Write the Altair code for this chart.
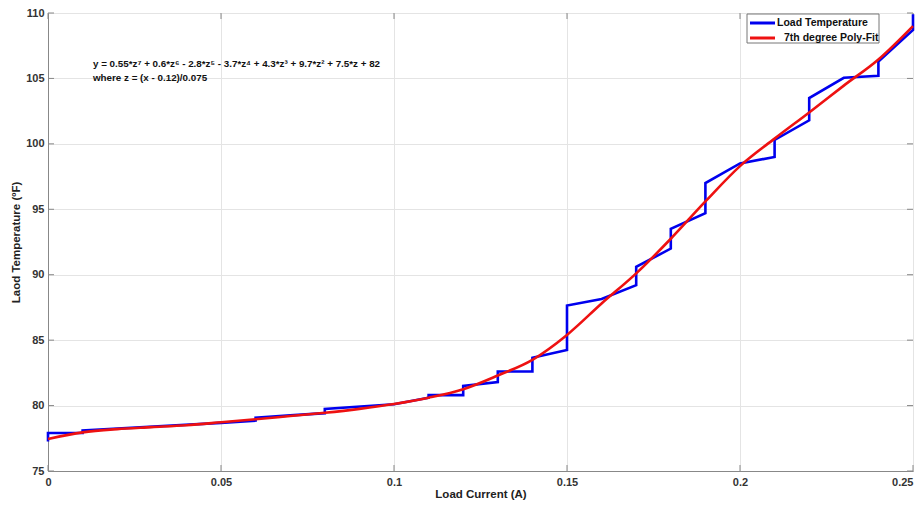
import altair as alt
import pandas as pd

# ---- data ----
blue_x = [0, 0, 0.01, 0.01, 0.05, 0.06, 0.06, 0.07, 0.08, 0.08, 0.10, 0.11, 0.11, 0.12, 0.12,
          0.13, 0.13, 0.14, 0.14, 0.15, 0.15, 0.16, 0.17, 0.17, 0.18, 0.18, 0.19, 0.19, 0.20,
          0.21, 0.21, 0.22, 0.22, 0.23, 0.24, 0.24, 0.25, 0.25]
blue_y = [77.25, 77.9, 77.9, 78.1, 78.68, 78.85, 79.08, 79.25, 79.42, 79.75, 80.1, 80.6, 80.8, 80.8, 81.5,
          81.8, 82.6, 82.6, 83.65, 84.25, 87.65, 88.15, 89.2, 90.6, 92.0, 93.5, 94.7, 97.0, 98.5,
          99.0, 100.3, 101.8, 103.5, 105.05, 105.2, 106.3, 108.7, 109.9]

fit_x = [0, 0.01, 0.02, 0.03, 0.04, 0.05, 0.06, 0.07, 0.08, 0.09, 0.10, 0.11, 0.12, 0.13,
         0.14, 0.15, 0.16, 0.17, 0.18, 0.19, 0.20, 0.21, 0.22, 0.23, 0.24, 0.25]
fit_y = [77.45, 77.95, 78.2, 78.35, 78.5, 78.72, 78.95, 79.2, 79.45, 79.75, 80.12, 80.6, 81.25, 82.3,
         83.5, 85.4, 87.8, 90.1, 92.75, 95.6, 98.3, 100.4, 102.4, 104.45, 106.45, 109.0]

series_names = ["Load Temperature", "7th degree Poly-Fit"]
series_colors = ["#0000ee", "#ee1111"]
x_ticks = [0, 0.05, 0.1, 0.15, 0.2, 0.25]
y_ticks = [75, 80, 85, 90, 95, 100, 105, 110]
eq_text = ("y = 0.55*z\u2077 + 0.6*z\u2076 - 2.8*z\u2075 - 3.7*z\u2074 + 4.3*z\u00b3 + 9.7*z\u00b2 + 7.5*z + 82"
           "\nwhere z = (x - 0.12)/0.075")

W, H = 865, 458
FONT = "Liberation Sans"
GRID = "#e4e4e4"
FRAME = "#888888"

blue_df = pd.DataFrame({"x": blue_x, "y": blue_y, "idx": list(range(len(blue_x)))})
fit_df = pd.DataFrame({"x": fit_x, "y": fit_y})

xscale = alt.Scale(domain=[0, 0.25], nice=False, zero=False)
yscale = alt.Scale(domain=[75, 110], nice=False, zero=False)

xaxis = alt.Axis(values=x_ticks, format="~g", title="Load Current (A)", grid=True,
                 gridColor=GRID, domainColor=FRAME, ticks=False, labelFlush=False,
                 labelAlign={"condition": {"test": "datum.value >= 0.249", "value": "right"},
                             "value": "center"},
                 labelPadding=5, titlePadding=1)
yaxis = alt.Axis(values=y_ticks, title="Laod Temperature (\u00baF)", grid=True,
                 gridColor=GRID, domainColor=FRAME, ticks=False, labelFlush=False,
                 labelPadding=4, titlePadding=4)


def X(field):
    return alt.X(field, scale=xscale, axis=xaxis)


def Y(field):
    return alt.Y(field, scale=yscale, axis=yaxis)


blue = alt.Chart(blue_df).mark_line(strokeWidth=2.6, color=series_colors[0]).encode(
    x=X("x:Q"), y=Y("y:Q"), order="idx:Q")
red = alt.Chart(fit_df).mark_line(strokeWidth=2.6, interpolate="monotone",
                                  color=series_colors[1]).encode(x=X("x:Q"), y=Y("y:Q"))

# inward ticks (MATLAB style) on all four sides
ytick_df = pd.DataFrame({"v": y_ticks})
xtick_df = pd.DataFrame({"v": x_ticks})
yt_left = alt.Chart(ytick_df).mark_rule(color=FRAME).encode(
    y=Y("v:Q"), x=alt.value(0), x2=alt.value(6))
yt_right = alt.Chart(ytick_df).mark_rule(color=FRAME).encode(
    y=Y("v:Q"), x=alt.value(W - 6), x2=alt.value(W))
xt_bot = alt.Chart(xtick_df).mark_rule(color=FRAME).encode(
    x=X("v:Q"), y=alt.value(H - 6), y2=alt.value(H))
xt_top = alt.Chart(xtick_df).mark_rule(color=FRAME).encode(
    x=X("v:Q"), y=alt.value(0), y2=alt.value(6))

eq = alt.Chart(pd.DataFrame({"t": [eq_text]})).mark_text(
    align="left", baseline="middle", font=FONT, fontSize=9.8, fontWeight="bold",
    color="#111", lineBreak="\n", lineHeight=14).encode(
    text="t:N", x=alt.value(45), y=alt.value(51))

# legend box (drawn like MATLAB's legend)
leg_box = alt.Chart(pd.DataFrame({"a": [0]})).mark_rect(
    fill="white", stroke="#777", strokeWidth=1).encode(
    x=alt.value(699), x2=alt.value(831), y=alt.value(1), y2=alt.value(30))
leg_items = []
for i, (name, col) in enumerate(zip(series_names, series_colors)):
    yy = 10 + 15 * i
    d = pd.DataFrame({"t": [name]})
    leg_items.append(alt.Chart(d).mark_rule(color=col, strokeWidth=3).encode(
        x=alt.value(702), x2=alt.value(727), y=alt.value(yy)))
    leg_items.append(alt.Chart(d).mark_text(
        align="left", baseline="middle", font=FONT, fontSize=10.5, fontWeight="bold",
        color="#111").encode(text="t:N", x=alt.value(729 + 7 * i), y=alt.value(yy)))

chart = alt.layer(yt_left, yt_right, xt_bot, xt_top, blue, red, eq, leg_box, *leg_items).properties(
    width=W, height=H,
    autosize=alt.AutoSizeParams(type="none"),
    padding={"left": 40, "top": 5, "right": 3, "bottom": 29},
).configure_axis(
    labelFont=FONT, labelFontSize=11, labelFontWeight="bold", labelColor="#333",
    titleFont=FONT, titleFontSize=11.5, titleFontWeight="bold", titleColor="#222",
).configure_view(stroke=FRAME, strokeWidth=1)

chart.save("out.html", embed_options={"renderer": "svg", "actions": False})
